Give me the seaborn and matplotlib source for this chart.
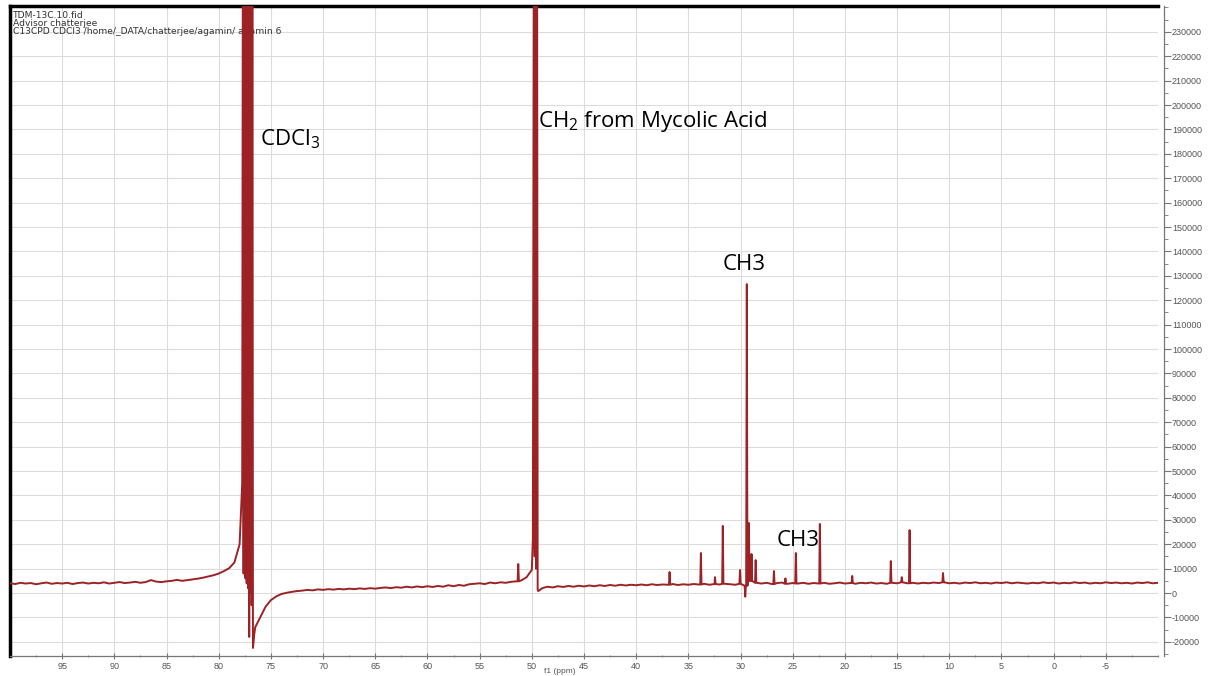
import numpy as np
import pandas as pd
import seaborn as sns
import matplotlib.pyplot as plt
from matplotlib.ticker import MultipleLocator, FixedLocator, FuncFormatter

# baseline of the 13C trace, read every 0.5 ppm from 100 down to -10
base_start = 100.0
base_step = 0.5
base_int = [
    4000, 3700, 4200, 3900, 4100, 3600, 4000, 4300, 3800, 4100,   # 100 .. 95.5
    3900, 4200, 3700, 4100, 4300, 3900, 4200, 4000, 4400, 3900,   # 95 .. 90.5
    4200, 4500, 4100, 4300, 4600, 4200, 4500, 5300, 4700, 4500,   # 90 .. 85.5
    4800, 5000, 5400, 5000, 5300, 5600, 5900, 6300, 6800, 7300,   # 85 .. 80.5
    8000, 9000, 10200, 12500, 20000, 300000, 300000, -14000, -9800, -5500,  # 80 .. 75.5
    -2900, -1400, -400, 100, 500, 800, 1000, 1300, 1100, 1500,    # 75 .. 70.5
    1300, 1600, 1400, 1700, 1500, 1800, 1600, 1900, 1700, 2000,   # 70 .. 65.5
    1800, 2100, 2300, 2000, 2400, 2200, 2600, 2300, 2700, 2400,   # 65 .. 60.5
    2800, 2500, 2900, 2600, 3200, 2800, 3300, 3000, 3600, 3800,   # 60 .. 55.5
    4000, 3700, 4300, 4000, 4400, 4200, 4600, 4800, 5200, 6500,   # 55 .. 50.5
    9500, 300000, 2000, 2600, 2300, 2800, 2500, 2900, 2600, 3000,  # 50 .. 45.5
    2700, 3100, 2800, 3200, 2900, 3300, 3000, 3400, 3100, 3400,   # 45 .. 40.5
    3200, 3500, 3200, 3600, 3300, 3500, 3400, 3700, 3300, 3600,   # 40 .. 35.5
    3400, 3700, 3500, 3800, 3400, 3700, 3500, 3800, 3600, 3400,   # 35 .. 30.5
    3800, 3000, 5000, 4200, 3900, 4200, 3700, 4100, 4300, 3800,   # 30 .. 25.5
    4100, 3900, 4200, 3800, 4100, 3900, 4200, 3800, 4000, 4300,   # 25 .. 20.5
    3900, 4100, 3800, 4200, 4000, 4300, 3900, 4100, 3800, 4200,   # 20 .. 15.5
    4000, 4400, 4000, 4200, 3900, 4200, 4000, 4300, 4100, 4400,   # 15 .. 10.5
    4000, 4200, 3900, 4300, 4100, 4400, 4000, 4200, 3900, 4300,   # 10 .. 5.5
    4100, 4400, 4000, 4300, 4100, 3900, 4200, 4000, 4400, 4100,   # 5 .. 0.5
    4300, 3900, 4200, 4000, 4400, 4100, 4300, 3900, 4200, 4000,   # 0 .. -4.5
    4400, 4100, 4300, 4000, 4200, 3900, 4300, 4100, 4400, 4000,   # -5 .. -9.5
    4200,                                                         # -10
]

# solvent triplet (CDCl3) - saturated and phase distorted
cdcl3_ppm = [77.75, 77.68, 77.62, 77.56, 77.44, 77.38, 77.32, 77.26, 77.20,
             77.14, 77.08, 77.03, 76.96, 76.90, 76.84, 76.78, 76.72, 76.66, 76.60]
cdcl3_int = [45000, 300000, 8000, 300000, 6000, 300000, 4000, 300000, 2000,
             300000, -18000, 300000, 0, 300000, -5000, 300000, -22500, -20000, -17000]

# big CH2 signal at 49.6 ppm
ch2_ppm = [49.90, 49.78, 49.72, 49.66, 49.60, 49.54, 49.44, 49.38]
ch2_int = [22000, 300000, 15000, 300000, 10000, 300000, 1500, 800]

# sharp lines
peak_ppm = [51.3, 36.8, 33.8, 32.45, 31.7, 30.05, 29.55, 29.4, 29.2, 28.95,
            28.55, 26.8, 25.7, 24.7, 22.4, 19.3, 15.6, 14.55, 13.8, 10.6]
peak_int = [11900, 8600, 16400, 6500, 27500, 9400, -1500, 126600, 28700, 16000,
            13500, 9000, 6000, 16400, 28300, 7000, 13100, 6500, 25800, 8200]

x_ticks = [95, 90, 85, 80, 75, 70, 65, 60, 55, 50, 45, 40, 35, 30, 25, 20, 15, 10, 5, 0, -5]
y_ticks = list(range(-20000, 230001, 10000))

header_lines = ["TDM-13C.10.fid", "Advisor chatterjee",
                "C13CPD CDCl3 /home/_DATA/chatterjee/agamin/ agamin 6"]

# assemble the trace
base_ppm = base_start - base_step * np.arange(len(base_int))
xs = list(base_ppm) + cdcl3_ppm + ch2_ppm
ys = list(base_int) + cdcl3_int + ch2_int
for p, h in zip(peak_ppm, peak_int):
    foot = base_int[int(round((base_start - p) / base_step))]
    xs += [p + 0.06, p, p - 0.06]
    ys += [foot, h, foot]
df = pd.DataFrame({"ppm": xs, "intensity": ys})
df = df.sort_values("ppm", ascending=False, kind="stable").reset_index(drop=True)

sns.set_theme(style="whitegrid")
plt.rcParams["font.family"] = ["Liberation Sans", "DejaVu Sans"]
plt.rcParams["axes.unicode_minus"] = False
plt.rcParams["mathtext.fontset"] = "custom"
plt.rcParams["mathtext.rm"] = "Open Sans"
plt.rcParams["mathtext.default"] = "regular"

fig = plt.figure(figsize=(12.28, 6.76), dpi=100)
ax = fig.add_axes([10 / 1228, 1 - 656 / 676, 1148 / 1228, 650 / 676])
ax.set_facecolor("white")

sns.lineplot(data=df, x="ppm", y="intensity", sort=False, estimator=None,
             color="#9c2226", linewidth=1.4, ax=ax, zorder=3)

ax.set_xlim(100, -10)
ax.set_ylim(-25800, 240600)

ax.xaxis.set_major_locator(FixedLocator(x_ticks))
ax.xaxis.set_minor_locator(MultipleLocator(2.5))
ax.yaxis.set_major_locator(FixedLocator(y_ticks))
ax.yaxis.set_minor_locator(MultipleLocator(5000))
ax.xaxis.set_major_formatter(FuncFormatter(lambda v, p: f"{int(round(v))}"))
ax.yaxis.set_major_formatter(FuncFormatter(lambda v, p: f"{int(round(v))}"))

ax.grid(True, which="major", color="#dcdcdc", linewidth=0.8)
ax.yaxis.tick_right()
ax.tick_params(axis="y", which="major", direction="out", length=5, width=0.8,
               color="#777777", labelsize=6.5, labelcolor="#555555", pad=1, right=True)
ax.tick_params(axis="y", which="minor", direction="out", length=3, width=0.6,
               color="#777777", right=True)
ax.tick_params(axis="x", which="major", direction="inout", length=5, width=0.8,
               color="#777777", labelsize=6.5, labelcolor="#555555", pad=2, bottom=True)
ax.tick_params(axis="x", which="minor", direction="inout", length=2, width=0.6,
               color="#777777", bottom=True)

ax.set_xlabel("f1 (ppm)", fontsize=6, color="#555555")
ax.xaxis.set_label_coords(0.479, -0.018)
ax.set_ylabel("")

for side in ["left", "top"]:
    ax.spines[side].set_color("black")
    ax.spines[side].set_linewidth(2.5)
for side in ["right", "bottom"]:
    ax.spines[side].set_color("#777777")
    ax.spines[side].set_linewidth(0.9)
ax.spines["right"].set_position(("outward", 4))

# acquisition header, drawn under the trace like in the spectrometer software
for i, line in enumerate(header_lines):
    ax.text(13 / 1228, 1 - (15 + 8.5 * i) / 676, line, fontsize=6.6,
            transform=fig.transFigure, family=["DejaVu Sans"], color="#333333",
            va="center", ha="left", zorder=1)

label_font = ["Open Sans", "DejaVu Sans"]
ax.text(76.0, 183300, "CDCl$_3$", fontsize=16, family=label_font, color="black", va="baseline")
ax.text(49.4, 191000, "CH$_2$ from Mycolic Acid", fontsize=16, family=label_font,
        color="black", va="baseline")
ax.text(31.7, 132400, "CH3", fontsize=16, family=label_font, color="black", va="baseline")
ax.text(26.5, 19300, "CH3", fontsize=16, family=label_font, color="black", va="baseline")

fig.savefig("out.png", dpi=100)
